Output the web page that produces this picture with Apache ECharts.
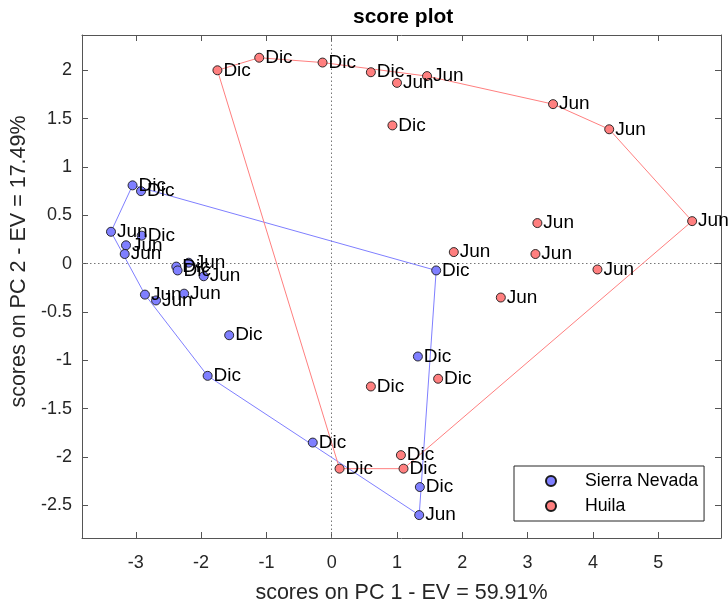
<!DOCTYPE html>
<html><head><meta charset="utf-8">
<script src="https://cdn.jsdelivr.net/npm/echarts@6/dist/echarts.min.js"></script>
<style>html,body{margin:0;padding:0;background:#fff}#c{width:728px;height:599px}</style>
</head><body><div id="c"></div>
<script>
// ---- data ----
const xTicks = [-3, -2, -1, 0, 1, 2, 3, 4, 5];
const yTicks = [-2.5, -2, -1.5, -1, -0.5, 0, 0.5, 1, 1.5, 2];
const groupNames = ['Sierra Nevada', 'Huila'];

const snX = [-3.05, -2.92, -3.38, -2.91, -3.15, -3.17, -2.19, -2.38, -2.36, -1.96, -2.86, -2.69, -2.26, -1.57, -1.90, -0.29, 1.60, 1.32, 1.35, 1.34];
const snY = [0.81, 0.75, 0.33, 0.29, 0.19, 0.10, 0.01, -0.03, -0.07, -0.13, -0.32, -0.38, -0.31, -0.74, -1.16, -1.85, -0.07, -0.96, -2.31, -2.60];
const snLab = ['Dic', 'Dic', 'Jun', 'Dic', 'Jun', 'Jun', 'Jun', 'Dic', 'Dic', 'Jun', 'Jun', 'Jun', 'Jun', 'Dic', 'Dic', 'Dic', 'Dic', 'Dic', 'Dic', 'Jun'];

const huX = [-1.75, -1.11, -0.14, 0.60, 1.00, 1.46, 0.93, 3.39, 4.25, 5.52, 3.15, 1.87, 3.12, 4.07, 2.59, 0.60, 1.63, 1.06, 1.10, 0.12];
const huY = [2.00, 2.13, 2.08, 1.98, 1.87, 1.94, 1.43, 1.65, 1.39, 0.44, 0.42, 0.12, 0.10, -0.06, -0.35, -1.27, -1.19, -1.98, -2.12, -2.12];
const huLab = ['Dic', 'Dic', 'Dic', 'Dic', 'Jun', 'Jun', 'Dic', 'Jun', 'Jun', 'Jun', 'Jun', 'Jun', 'Jun', 'Jun', 'Jun', 'Dic', 'Dic', 'Dic', 'Dic', 'Dic'];

const xMin = -3.824, xMax = 5.962, yMin = -2.837, yMax = 2.365;

// ---- helpers ----
function hull(xs, ys) {
  const p = xs.map((x, i) => [x, ys[i]]).sort((a, b) => a[0] - b[0] || a[1] - b[1]);
  const cross = (o, a, b) => (a[0] - o[0]) * (b[1] - o[1]) - (a[1] - o[1]) * (b[0] - o[0]);
  const lo = [], up = [];
  for (const q of p) { while (lo.length >= 2 && cross(lo[lo.length - 2], lo[lo.length - 1], q) <= 0) lo.pop(); lo.push(q); }
  for (let i = p.length - 1; i >= 0; i--) { const q = p[i]; while (up.length >= 2 && cross(up[up.length - 2], up[up.length - 1], q) <= 0) up.pop(); up.push(q); }
  up.pop(); lo.pop();
  const h = lo.concat(up); h.push(h[0]); return h;
}
const FF = '"Liberation Sans", Arial, Helvetica, sans-serif';
const blue = '#7f7fff', red = '#ff7f7f', frame = '#555555';

function scatter(name, xs, ys, labs, color) {
  return {
    name, type: 'scatter', z: 4,
    data: xs.map((x, i) => [x, ys[i]]),
    symbol: 'circle', symbolSize: 9,
    itemStyle: { color, borderColor: '#1a1a1a', borderWidth: 0.9, opacity: 1 },
    label: { show: true, position: 'right', distance: 1, formatter: p => labs[p.dataIndex],
      fontSize: 19, color: '#000', fontFamily: FF },
    emphasis: { disabled: true }
  };
}
function hullLine(name, xs, ys, color) {
  return { name, type: 'line', z: 3, data: hull(xs, ys), symbol: 'none', silent: true,
    lineStyle: { color, width: 1 }, emphasis: { disabled: true }, animation: false };
}
function xAx(pos, show) {
  return { type: 'value', min: xMin, max: xMax, position: pos,
    axisLine: { show: true, onZero: false, lineStyle: { color: frame, width: 1 } },
    axisTick: { show: true, inside: true, length: 6, customValues: xTicks, lineStyle: { color: frame } },
    axisLabel: { show: show, customValues: xTicks, margin: 16, fontSize: 18, color: '#262626', fontFamily: FF },
    splitLine: { show: false },
    name: show ? 'scores on PC 1 - EV = 59.91%' : '', nameLocation: 'middle', nameGap: 44,
    nameTextStyle: { fontSize: 21.5, color: '#262626', fontFamily: FF } };
}
function yAx(pos, show) {
  return { type: 'value', min: yMin, max: yMax, position: pos,
    axisLine: { show: true, onZero: false, lineStyle: { color: frame, width: 1 } },
    axisTick: { show: true, inside: true, length: 6, customValues: yTicks, lineStyle: { color: frame } },
    axisLabel: { show: show, customValues: yTicks, margin: 10, fontSize: 18, color: '#262626', fontFamily: FF },
    splitLine: { show: false },
    name: show ? 'scores on PC 2 - EV = 17.49%' : '', nameLocation: 'middle', nameGap: 46,
    nameTextStyle: { fontSize: 21.5, color: '#262626', fontFamily: FF, padding: [0, 0, 0, 50] } };
}

const chart = echarts.init(document.getElementById('c'), null, { renderer: 'canvas' });
const sn = hullLine('SN hull', snX, snY, blue);
sn.markLine = { silent: true, symbol: ['none', 'none'], label: { show: false }, z: 1, animation: false,
  lineStyle: { type: [1.5, 2.5], color: '#777', width: 1 },
  data: [{ xAxis: 0 }, { yAxis: 0 }] };
chart.setOption({
  animation: false,
  backgroundColor: '#fff',
  title: { text: 'score plot', left: 353, top: 7, padding: 0,
    textStyle: { fontSize: 21, fontWeight: 'bold', color: '#000', fontFamily: FF } },
  grid: { left: 82, right: 7, top: 35, bottom: 61, containLabel: false, outerBoundsMode: 'none' },
  xAxis: [xAx('bottom', true), xAx('top', false)],
  yAxis: [yAx('left', true), yAx('right', false)],
  legend: { data: groupNames, orient: 'vertical', left: 514, top: 466, itemWidth: 58, itemHeight: 10,
    itemGap: 7, padding: [6, 6, 6, 31], borderColor: '#262626', borderWidth: 1, backgroundColor: '#fff',
    selectedMode: false, textStyle: { fontSize: 17.7, color: '#000', fontFamily: FF } },
  series: [
    sn,
    hullLine('Huila hull', huX, huY, red),
    scatter(groupNames[0], snX, snY, snLab, blue),
    scatter(groupNames[1], huX, huY, huLab, red)
  ]
});
</script></body></html>
